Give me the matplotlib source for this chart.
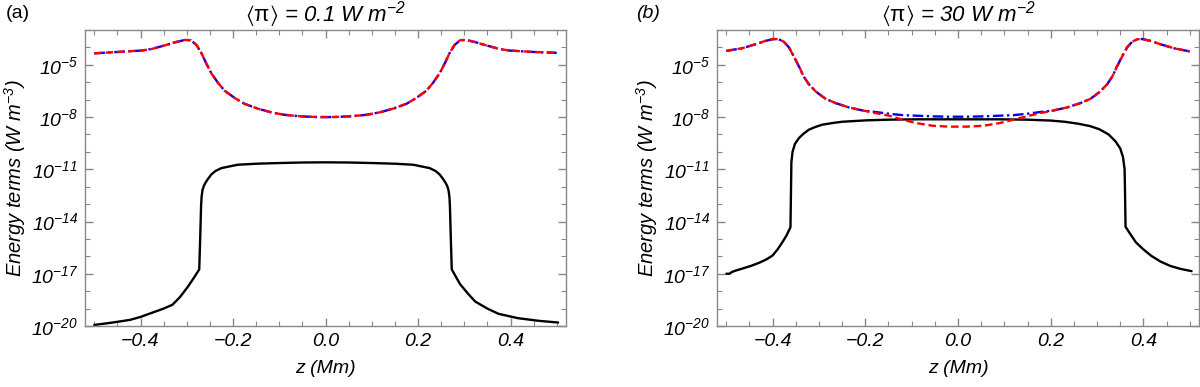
import numpy as np
import matplotlib
matplotlib.use("Agg")
import matplotlib.pyplot as plt
from matplotlib.ticker import FixedLocator, FuncFormatter, MultipleLocator

plt.rcParams['font.family'] = ['Liberation Sans', 'DejaVu Sans']
plt.rcParams['mathtext.fontset'] = 'custom'
plt.rcParams['mathtext.rm'] = 'Liberation Sans:italic'
plt.rcParams['mathtext.it'] = 'Liberation Sans:italic'
plt.rcParams['mathtext.sf'] = 'Liberation Sans'
plt.rcParams['mathtext.bf'] = 'Liberation Sans:bold:italic'
plt.rcParams['mathtext.fallback'] = 'stixsans'

# Values are log10 of the energy terms (W m^-3).
# ---------------- panel (a), <pi> = 0.1 W m^-2 ----------------
z_a_flux = [-0.50, -0.448, -0.398, -0.376, -0.347, -0.326, -0.304, -0.291, -0.279, -0.268, -0.258,
            -0.247, -0.232, -0.218, -0.196, -0.175, -0.146, -0.117, -0.089, -0.053, -0.017,
            0.017, 0.053, 0.089, 0.117, 0.146, 0.175, 0.196, 0.218, 0.232, 0.247, 0.258, 0.268,
            0.279, 0.291, 0.304, 0.326, 0.347, 0.376, 0.398, 0.448, 0.50]
a_red_log = [-4.34, -4.26, -4.18, -4.09, -3.88, -3.71, -3.57, -3.59, -3.86, -4.34, -4.91,
             -5.48, -6.05, -6.49, -6.91, -7.24, -7.52, -7.73, -7.87, -7.96, -8.00,
             -8.00, -7.96, -7.87, -7.73, -7.52, -7.24, -6.91, -6.49, -6.05, -5.48, -4.91, -4.34,
             -3.86, -3.59, -3.57, -3.71, -3.88, -4.09, -4.18, -4.26, -4.31]
a_blue_log = [-4.34, -4.26, -4.18, -4.09, -3.88, -3.71, -3.57, -3.59, -3.86, -4.34, -4.91,
              -5.48, -6.05, -6.49, -6.91, -7.24, -7.52, -7.73, -7.87, -7.96, -8.00,
              -8.00, -7.96, -7.87, -7.73, -7.52, -7.24, -6.91, -6.49, -6.05, -5.48, -4.91, -4.34,
              -3.86, -3.59, -3.57, -3.71, -3.88, -4.09, -4.18, -4.26, -4.31]
z_a_black = [-0.50, -0.46, -0.423, -0.40, -0.373, -0.35, -0.331, -0.315, -0.298, -0.285, -0.273,
             -0.271, -0.269, -0.268, -0.266, -0.263, -0.259, -0.254, -0.247, -0.238, -0.225, -0.19,
             -0.15, -0.10, -0.05, 0.0, 0.05, 0.10, 0.15, 0.19, 0.225, 0.238, 0.247, 0.254, 0.259,
             0.263, 0.266, 0.268, 0.269, 0.271, 0.273, 0.291, 0.31, 0.324, 0.35, 0.374, 0.416,
             0.46, 0.503]
a_black_log = [-19.94, -19.80, -19.65, -19.48, -19.22, -19.00, -18.78, -18.35, -17.76, -17.25, -16.75,
               -15.00, -13.10, -12.60, -12.20, -11.95, -11.75, -11.55, -11.30, -11.10, -10.93, -10.74,
               -10.68, -10.64, -10.61, -10.60, -10.61, -10.64, -10.68, -10.74, -10.93, -11.10, -11.30,
               -11.55, -11.75, -11.95, -12.20, -12.60, -13.10, -15.00, -16.75, -17.60, -18.20, -18.60,
               -19.00, -19.30, -19.55, -19.70, -19.80]

# ---------------- panel (b), <pi> = 30 W m^-2 ----------------
z_b_flux = [-0.50, -0.466, -0.437, -0.416, -0.398, -0.387, -0.376, -0.365, -0.354, -0.343, -0.333,
            -0.322, -0.307, -0.286, -0.264, -0.235, -0.206, -0.178, -0.149, -0.120, -0.091, -0.055,
            -0.019, 0.019, 0.055, 0.091, 0.120, 0.149, 0.178, 0.206, 0.235, 0.264, 0.286, 0.307,
            0.322, 0.333, 0.343, 0.354, 0.365, 0.376, 0.387, 0.398, 0.416, 0.437, 0.466, 0.50]
b_red_log = [-4.20, -4.05, -3.82, -3.63, -3.52, -3.53, -3.67, -3.99, -4.53, -5.10, -5.67,
             -6.11, -6.53, -6.95, -7.20, -7.45, -7.62, -7.77, -7.92, -8.15, -8.34, -8.50,
             -8.55, -8.55, -8.50, -8.34, -8.15, -7.95, -7.77, -7.62, -7.45, -7.20, -6.95, -6.53,
             -6.11, -5.67, -5.10, -4.53, -3.99, -3.67, -3.53, -3.52, -3.63, -3.82, -4.05, -4.23]
b_blue_log = [-4.20, -4.05, -3.82, -3.63, -3.52, -3.53, -3.67, -3.99, -4.53, -5.10, -5.67,
              -6.11, -6.53, -6.95, -7.20, -7.45, -7.62, -7.71, -7.81, -7.89, -7.92, -7.96,
              -7.98, -7.98, -7.96, -7.92, -7.89, -7.81, -7.71, -7.62, -7.45, -7.20, -6.95, -6.53,
              -6.11, -5.67, -5.10, -4.53, -3.99, -3.67, -3.53, -3.52, -3.63, -3.82, -4.05, -4.23]
z_b_black = [-0.50, -0.493, -0.488, -0.48, -0.465, -0.447, -0.43, -0.413, -0.40, -0.389, -0.378,
             -0.37, -0.3615, -0.3605, -0.3595, -0.357, -0.352, -0.343, -0.333, -0.322, -0.308,
             -0.293, -0.27, -0.25, -0.199, -0.149, -0.091, 0.0, 0.091, 0.149, 0.199, 0.23, 0.259,
             0.285, 0.305, 0.325, 0.34, 0.35, 0.356, 0.3595, 0.3605, 0.3615, 0.37, 0.384, 0.40,
             0.417, 0.437, 0.458, 0.48, 0.504]
b_black_log = [-17.00, -17.00, -16.90, -16.82, -16.70, -16.55, -16.38, -16.17, -15.95, -15.59, -15.15,
               -14.80, -14.33, -12.50, -10.60, -10.00, -9.55, -9.20, -8.95, -8.73, -8.57,
               -8.44, -8.34, -8.27, -8.19, -8.15, -8.13, -8.13, -8.13, -8.15, -8.20, -8.27, -8.38,
               -8.52, -8.70, -9.00, -9.40, -9.80, -10.30, -11.00, -12.50, -14.30, -14.65, -15.20, -15.60,
               -15.97, -16.30, -16.55, -16.72, -16.85]

titles = [r'$\langle\mathsf{\pi}\rangle$ = 0.1 W m$^{-2}$', r'$\langle\mathsf{\pi}\rangle$ = 30 W m$^{-2}$']
panel_tags = ['(a)', '(b)']
xticks = [-0.4, -0.2, 0.0, 0.2, 0.4]
yticks_exp = [-20, -17, -14, -11, -8, -5]

fig = plt.figure(figsize=(12, 3.87), dpi=100)
ax_a = fig.add_axes([85 / 1200, 1 - 326 / 387, 481 / 1200, 296 / 387])
ax_b = fig.add_axes([717 / 1200, 1 - 326 / 387, 482 / 1200, 296 / 387])

panels = [
    (ax_a, z_a_flux, a_blue_log, a_red_log, z_a_black, a_black_log),
    (ax_b, z_b_flux, b_blue_log, b_red_log, z_b_black, b_black_log),
]

spine_col = '#888888'
for i, (ax, zf, blue, red, zb, black) in enumerate(panels):
    ax.plot(zb, np.power(10.0, black), color='black', lw=1.7,
            solid_joinstyle='round', solid_capstyle='round')
    ax.plot(zf, np.power(10.0, blue), color='#0000ff', lw=1.7, linestyle=(0, (4.5, 1.5, 1, 1.5)))
    ax.plot(zf, np.power(10.0, red), color='#ff0000', lw=1.7, linestyle=(0, (3.2, 1.6)))
    ax.set_yscale('log')
    ax.set_xlim(-0.52, 0.52)
    ax.set_ylim(1e-20, 1e-3)
    ax.xaxis.set_major_locator(FixedLocator(xticks))
    ax.xaxis.set_minor_locator(MultipleLocator(0.05))
    ax.xaxis.set_major_formatter(FuncFormatter(lambda v, p: f'{v:.1f}'.replace('-', '\u2212')))
    ax.yaxis.set_major_locator(FixedLocator([10.0 ** e for e in yticks_exp]))
    ax.yaxis.set_minor_locator(FixedLocator([10.0 ** e for e in range(-20, -2)]))
    ax.yaxis.set_major_formatter(FuncFormatter(lambda v, p: r'$10^{%d}$' % round(np.log10(v))))
    ax.yaxis.set_minor_formatter(FuncFormatter(lambda v, p: ''))
    for s in ax.spines.values():
        s.set_color(spine_col)
        s.set_linewidth(1.0)
    ax.tick_params(which='both', direction='in', top=True, right=True, color=spine_col,
                   labelsize=14, pad=5)
    ax.tick_params(which='major', length=6, width=1.0)
    ax.tick_params(which='minor', length=3.5, width=0.8)
    for lab in ax.get_xticklabels():
        lab.set_fontstyle('italic')
    ax.set_xlabel('z (Mm)', fontsize=14, fontstyle='italic', labelpad=7)
    ax.set_ylabel(r'Energy terms (W m$^{-3}$)', fontsize=14.5, fontstyle='italic', labelpad=2)
    ax.set_title(titles[i], fontsize=16, fontstyle='italic', pad=4)

fig.text(6 / 1200, 1 - 14 / 387, panel_tags[0], fontsize=14, va='center', ha='left')
fig.text(636 / 1200, 1 - 14 / 387, panel_tags[1], fontsize=14, fontstyle='italic', va='center', ha='left')

fig.savefig('out.png', dpi=100)
